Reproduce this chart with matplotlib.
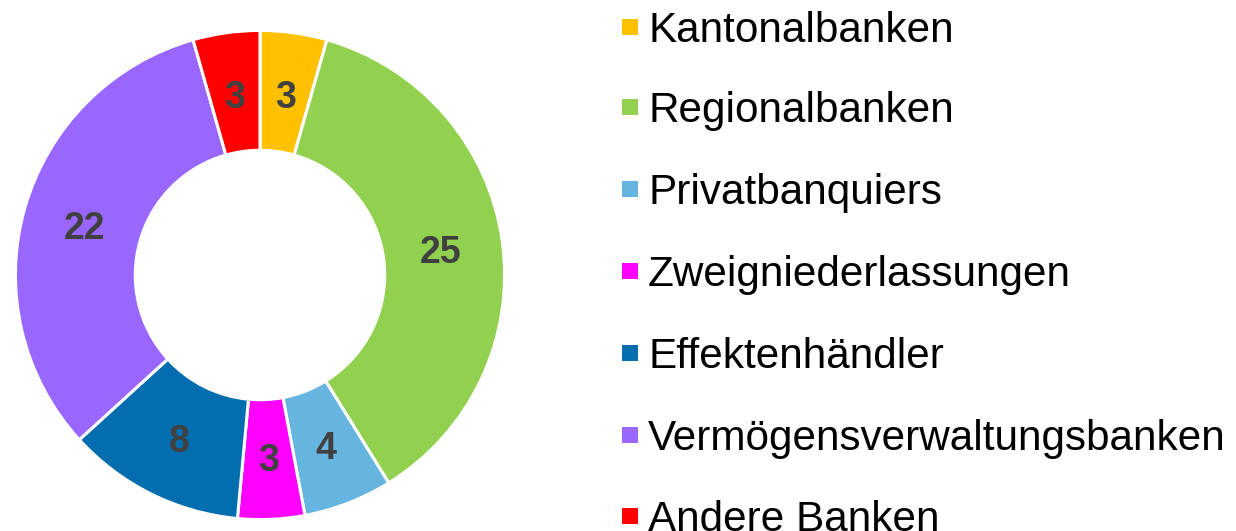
import matplotlib.pyplot as plt
from matplotlib.patches import Rectangle

labels = ["Kantonalbanken", "Regionalbanken", "Privatbanquiers", "Zweigniederlassungen",
          "Effektenhändler", "Vermögensverwaltungsbanken", "Andere Banken"]
values = [3, 25, 4, 3, 8, 22, 3]
colors = ["#FFC000", "#92D050", "#66B4E0", "#FF00FF", "#036EAF", "#9966FF", "#FF0000"]

plt.rcParams['font.family'] = ['Liberation Sans', 'DejaVu Sans']

W, H = 1236, 531
fig = plt.figure(figsize=(W / 100, H / 100), dpi=100)

# donut: center (260, 275) px from top, outer radius 247 px
cx, cy, R = 260, 275, 247
ax = fig.add_axes([(cx - R) / W, (H - cy - R) / H, 2 * R / W, 2 * R / H])
total = sum(values)
wedges, texts, autotexts = ax.pie(
    values, colors=colors, startangle=90, counterclock=False, radius=1,
    wedgeprops=dict(width=0.49, edgecolor="white", linewidth=2.2),
    autopct=lambda p: f"{round(p * total / 100)}", pctdistance=0.745,
    textprops=dict(fontsize=27, fontweight="bold", color="#404040"))
# value labels sit a touch lower in the original
for t in autotexts:
    x, y = t.get_position()
    t.set_position((x, y - 0.015))
ax.set_xlim(-1.01, 1.01)
ax.set_ylim(-1.01, 1.01)
ax.set_aspect("equal")
ax.axis("off")

# legend drawn by hand (baselines in px from top)
baselines = [42, 122, 204, 286, 368, 450, 531]
for lab, col, b in zip(labels, colors, baselines):
    fig.patches.append(Rectangle((622 / W, (H - b + 7) / H), 16 / W, 16 / H,
                                 facecolor=col, edgecolor="none",
                                 transform=fig.transFigure, figure=fig))
    fig.text(648 / W, (H - b) / H, lab, fontsize=30.4, va="baseline", ha="left", color="black")

fig.savefig("out.png", dpi=100)
